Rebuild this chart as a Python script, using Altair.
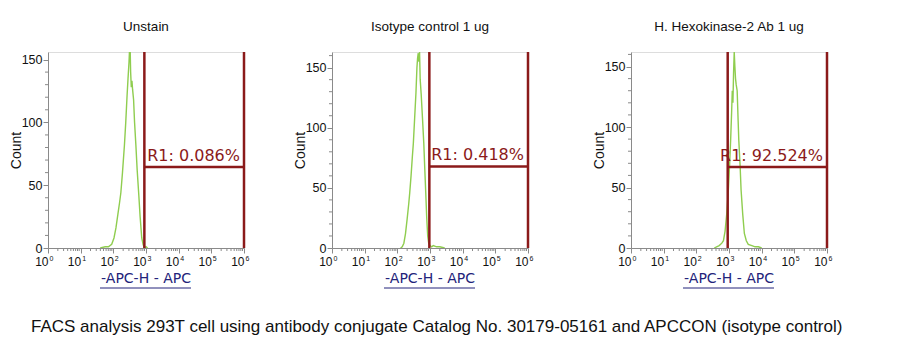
import math
import altair as alt
import pandas as pd

# ---------------- data ----------------
titles = ["Unstain", "Isotype control 1 ug", "H. Hexokinase-2 Ab 1 ug"]
gate_labels = ["R1: 0.086%", "R1: 0.418%", "R1: 92.524%"]
gate_lo = [2.95, 2.98, 2.96]          # log10 APC, left edge of R1 gate
gate_hi = [6.0, 6.0, 6.0]
gate_y = [64.5, 67.8, 66.9]           # count level of gate bar
y_max = [156, 163, 162]

# histogram traces (log10 APC value, count)
h1_x = [1.60, 1.75, 1.85, 1.95, 2.02, 2.08, 2.14, 2.19, 2.23, 2.28, 2.34, 2.38, 2.42, 2.45,
        2.48, 2.50, 2.51, 2.53, 2.55, 2.57, 2.59, 2.62, 2.65, 2.69, 2.73, 2.78, 2.82, 2.87,
        2.91, 2.95, 3.00, 3.05]
h1_y = [0, 1, 1, 3, 8, 16, 27, 36, 44, 60, 82, 100, 121, 135,
        148, 160, 165, 140, 128, 133, 126, 118, 100, 82, 62, 42, 25, 8,
        3, 0, 1, 0]

h2_x = [2.10, 2.15, 2.20, 2.25, 2.30, 2.35, 2.38, 2.42, 2.46, 2.49, 2.53, 2.57, 2.60, 2.62,
        2.64, 2.66, 2.68, 2.70, 2.73, 2.77, 2.81, 2.84, 2.87, 2.90, 2.93, 2.96, 3.00, 3.05,
        3.10, 3.20, 3.30, 3.45]
h2_y = [0, 1, 4, 12, 24, 37, 46, 60, 76, 87, 108, 129, 150, 158,
        162, 155, 163, 140, 128, 108, 87, 66, 46, 25, 10, 4, 2, 1,
        2, 1, 1, 0]

h3_x = [2.55, 2.62, 2.70, 2.78, 2.83, 2.88, 2.93, 2.98, 3.02, 3.05, 3.08, 3.10, 3.12, 3.14,
        3.16, 3.18, 3.20, 3.22, 3.25, 3.28, 3.30, 3.34, 3.37, 3.42, 3.47, 3.53, 3.59, 3.70,
        3.80, 3.90, 4.00]
h3_y = [0, 1, 2, 4, 6, 14, 28, 48, 70, 89, 112, 130, 120, 145,
        162, 150, 140, 135, 130, 105, 89, 68, 48, 28, 12, 6, 3, 2,
        1, 1, 0]

hist_x = [h1_x, h2_x, h3_x]
hist_y = [h1_y, h2_y, h3_y]

decades = [0, 1, 2, 3, 4, 5, 6]
caption = ("FACS analysis 293T cell using antibody conjugate Catalog No. 30179-05161 "
           "and APCCON (isotype control)")
x_axis_title = "-APC-H - APC"

# ---------------- style ----------------
GREEN = "#8fcd4f"
GATE = "#8b1a1a"
NAVY = "#23237a"
GRAY = "#8a8a8a"
W, H = 196, 196

X_AXIS = alt.Axis(values=decades, labelExpr="'10'", title=None,
                  tickSize=5, tickColor=GRAY, domainColor=GRAY,
                  labelAlign="right", labelPadding=3, labelFontSize=12,
                  labelFont="Liberation Sans", labelColor="#111", grid=False)
Y_AXIS = alt.Axis(values=[0, 50, 100, 150], title="Count",
                  titleFontSize=14, titleFont="Liberation Sans",
                  titleFontWeight="normal", titleColor="#111",
                  titlePadding=0, tickSize=5, tickColor=GRAY,
                  domainColor=GRAY, labelPadding=1, labelFontSize=12.5,
                  labelFont="Liberation Sans", labelColor="#111",
                  minExtent=25, maxExtent=25, grid=False)


def panel(i):
    ymax = y_max[i]
    xs = alt.Scale(domain=[0, 6], nice=False, zero=False)
    ys = alt.Scale(domain=[0, ymax], nice=False, zero=False)

    def X(f):
        return alt.X(f, scale=xs, axis=X_AXIS, title=None)

    def Y(f):
        return alt.Y(f, scale=ys, axis=Y_AXIS, title="Count")

    hist = pd.DataFrame({"v": hist_x[i], "c": hist_y[i]})
    line = alt.Chart(hist).mark_line(color=GREEN, strokeWidth=1.4, clip=True).encode(
        x=X("v:Q"), y=Y("c:Q"))

    # minor ticks
    minor_x = pd.DataFrame({"v": [d + math.log10(k) for d in range(6) for k in range(2, 10)]})
    mx = alt.Chart(minor_x).mark_rule(color=GRAY, strokeWidth=1).encode(
        x=X("v:Q"), y=alt.value(H), y2=alt.value(H + 3))
    minor_y = pd.DataFrame({"c": [v for v in range(0, int(ymax) + 1, 10) if v % 50]})
    my = alt.Chart(minor_y).mark_rule(color=GRAY, strokeWidth=1).encode(
        y=Y("c:Q"), x=alt.value(-3), x2=alt.value(0))

    # exponents of axis labels
    exp = alt.Chart(pd.DataFrame({"v": decades})).mark_text(
        fontSize=7, font="Liberation Sans", color="#111", align="left",
        baseline="top", dx=1.5).encode(
        x=X("v:Q"), y=alt.value(H + 7), text="v:Q")

    # gate
    gv = pd.DataFrame({"v": [gate_lo[i], gate_hi[i]]})
    gate_v = alt.Chart(gv).mark_rule(color=GATE, strokeWidth=2.5).encode(
        x=X("v:Q"), y=alt.value(0), y2=alt.value(H))
    gh = pd.DataFrame({"v": [gate_lo[i]], "b": [gate_hi[i]], "c": [gate_y[i]],
                       "t": [gate_labels[i]]})
    gate_h = alt.Chart(gh).mark_rule(color=GATE, strokeWidth=2.5).encode(
        x=X("v:Q"), x2="b:Q", y=Y("c:Q"))
    gate_t = alt.Chart(gh).mark_text(
        color=GATE, font="DejaVu Sans", fontSize=16, align="right",
        baseline="alphabetic", dx=-4, dy=-6).encode(
        x=X("b:Q"), y=Y("c:Q"), text="t:N")

    # x axis title (underlined)
    at = alt.Chart(pd.DataFrame({"t": [x_axis_title]})).mark_text(
        font="DejaVu Sans", fontSize=14, color=NAVY, baseline="alphabetic").encode(
        x=alt.value(W / 2), y=alt.value(H + 35), text="t:N")
    ul = alt.Chart(pd.DataFrame({"t": [x_axis_title]})).mark_rule(
        color=NAVY, strokeWidth=1).encode(
        x=alt.value(W / 2 - 46), x2=alt.value(W / 2 + 45), y=alt.value(H + 40))

    return alt.layer(line, mx, my, exp, gate_v, gate_h, gate_t, at, ul).properties(
        width=W, height=H,
        title=alt.TitleParams(titles[i], fontSize=13.5, font="Liberation Sans",
                              fontWeight="normal", color="#111", offset=17),
    )


inner = alt.hconcat(panel(0), panel(1), spacing=42)
chart = alt.hconcat(inner, panel(2), spacing=57).properties(
    title=alt.TitleParams(caption, orient="bottom", anchor="middle",
                          font="Liberation Sans", fontSize=17,
                          fontWeight="normal", color="#111", offset=30, dx=16),
    padding={"top": 11, "left": 0, "right": 0, "bottom": 0},
).configure_view(stroke="#b0b0b0", strokeWidth=1).configure(background="white")

chart.save("out.html", embed_options={"renderer": "svg", "actions": False})
